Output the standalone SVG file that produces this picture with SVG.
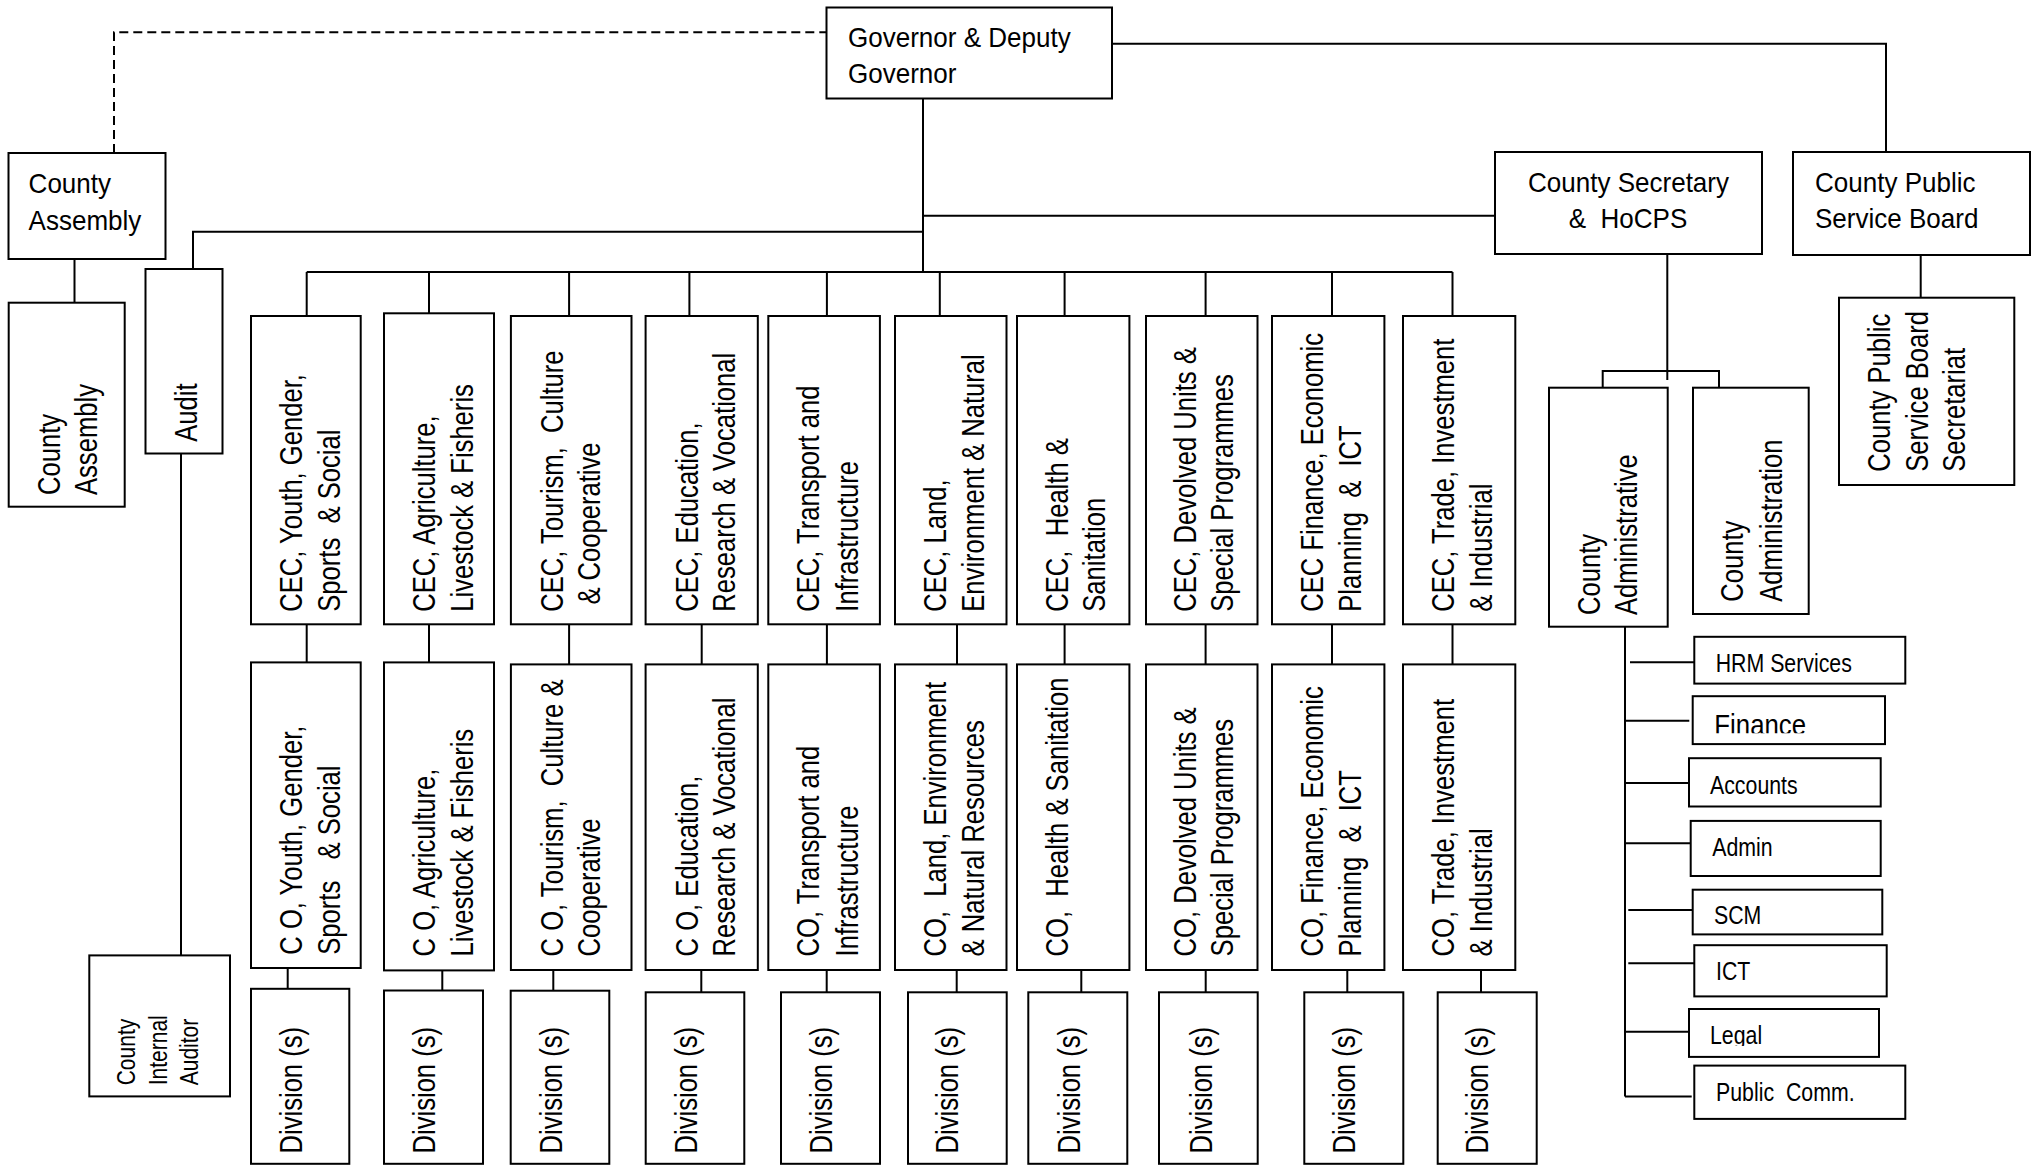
<svg xmlns="http://www.w3.org/2000/svg" width="2035" height="1165" viewBox="0 0 2035 1165">
<defs>
<style>
.b{fill:#fff;stroke:#000;stroke-width:2}
.c{fill:none;stroke:#000;stroke-width:2}
.d{fill:none;stroke:#000;stroke-width:2;stroke-dasharray:9 5}
text{font-family:"Liberation Sans",Arial,sans-serif;fill:#000;white-space:pre}
.v{font-size:32px}
.h{font-size:28px}
.l{font-size:26px}
.s{font-size:25px}
</style>
<clipPath id="clipFin"><rect x="1690" y="690" width="200" height="43.3"/></clipPath>
<clipPath id="clipLeg"><rect x="1686" y="1005" width="200" height="41"/></clipPath>
</defs>
<rect width="2035" height="1165" fill="#fff"/>

<g id="connectors">
<path class="d" d="M114,153 V32.3 H826.5"/>
<path class="c" d="M1112,43.7 H1886 V173"/>
<path class="c" d="M923,98.7 V272"/>
<path class="c" d="M923,215.7 H1495"/>
<path class="c" d="M923,231.7 H193 V269"/>
<path class="c" d="M74.5,259 V302.7"/>
<path class="c" d="M306.7,272 H1452.5"/>
<path class="c" d="M306.7,272 V316 M429,272 V313.3 M569.1,272 V316 M689.4,272 V316 M826.9,272 V316 M939.8,272 V316 M1064.6,272 V316 M1205.6,272 V316 M1332,272 V316 M1452.5,272 V316"/>
<path class="c" d="M306.7,624.3 V664 M429,624.3 V664 M569.1,624.3 V664 M701.7,624.3 V664 M826.9,624.3 V664 M957,624.3 V664 M1064.6,624.3 V664 M1205.6,624.3 V664 M1332,624.3 V664 M1452.5,624.3 V664"/>
<path class="c" d="M287.7,968 V989 M442.3,970 V990.5 M553.3,970 V990.7 M701.3,970 V992.3 M826.7,970 V992.3 M956.7,970 V992.3 M1081.3,970 V992.3 M1205.7,970 V992.3 M1347.3,970 V992.3 M1481,970 V992.3"/>
<path class="c" d="M181,453.5 V955.4"/>
<path class="c" d="M1667.3,254 V380 M1602.7,387.7 V371 H1719 V387.7"/>
<path class="c" d="M1920.7,255 V297.7"/>
<path class="c" d="M1625,626.3 V1096.6"/>
<path class="c" d="M1630,662.3 H1694.3 M1625,720.7 H1689.3 M1625,783.1 H1689 M1625,843.2 H1690.7 M1628.3,909.9 H1692.7 M1628.3,963.2 H1694.3 M1625,1031.7 H1689 M1625,1096.6 H1691.7"/>
</g>

<g id="governor">
<rect class="b" x="826.5" y="7.5" width="285.5" height="91"/>
<text class="h" transform="translate(848,46.7) scale(0.93,1)">Governor &amp; Deputy</text>
<text class="h" transform="translate(848,83.3) scale(0.93,1)">Governor</text>
</g>

<g id="county-assembly">
<rect class="b" x="8.5" y="153" width="157" height="106"/>
<text class="h" transform="translate(28.6,193.3) scale(0.93,1)">County</text>
<text class="h" transform="translate(28.6,230) scale(0.93,1)">Assembly</text>
</g>

<g id="county-assembly-2">
<rect class="b" x="8.7" y="302.7" width="116" height="204"/>
<text class="v" transform="translate(60,495) rotate(-90) scale(0.8,1)"><tspan x="0" y="0">County</tspan><tspan x="0" y="36.7">Assembly</tspan></text>
</g>

<g id="audit">
<rect class="b" x="145.5" y="269" width="77" height="184.5"/>
<text class="v" transform="translate(196.7,441.7) rotate(-90) scale(0.8,1)">Audit</text>
</g>

<g id="internal-auditor">
<rect class="b" x="89.3" y="955.4" width="140.7" height="141"/>
<text class="s" transform="translate(135,1085.3) rotate(-90) scale(0.84,1)"><tspan x="0" y="0">County</tspan><tspan x="0" y="31.7">Internal</tspan><tspan x="0" y="63.3">Auditor</tspan></text>
</g>

<g id="county-secretary">
<rect class="b" x="1495" y="152" width="267" height="102"/>
<text class="h" transform="translate(1628.5,191.7) scale(0.93,1)" text-anchor="middle">County Secretary</text>
<text class="h" transform="translate(1628,228.3) scale(0.93,1)" text-anchor="middle">&amp;  HoCPS</text>
</g>

<g id="cpsb">
<rect class="b" x="1793" y="152" width="237" height="103"/>
<text class="h" transform="translate(1815,191.7) scale(0.93,1)">County Public</text>
<text class="h" transform="translate(1815,228.3) scale(0.93,1)">Service Board</text>
</g>

<g id="cpsb-secretariat">
<rect class="b" x="1839" y="297.7" width="175.3" height="187.3"/>
<text class="v" transform="translate(1890,471.7) rotate(-90) scale(0.8,1)"><tspan x="0" y="0">County Public</tspan><tspan x="0" y="38.3">Service Board</tspan><tspan x="0" y="75">Secretariat</tspan></text>
</g>

<g id="county-administrative">
<rect class="b" x="1549" y="387.7" width="118.7" height="239"/>
<text class="v" transform="translate(1600,615) rotate(-90) scale(0.8,1)"><tspan x="0" y="0">County</tspan><tspan x="0" y="37.3">Administrative</tspan></text>
</g>

<g id="county-administration">
<rect class="b" x="1693" y="387.7" width="115.7" height="226.3"/>
<text class="v" transform="translate(1743.3,601.7) rotate(-90) scale(0.8,1)"><tspan x="0" y="0">County</tspan><tspan x="0" y="38.4">Administration</tspan></text>
</g>

<g id="cec-youth">
<rect class="b" x="251" y="316" width="109.7" height="308.3"/>
<text class="v" transform="translate(301.7,611.7) rotate(-90) scale(0.8,1)"><tspan x="0" y="0">CEC, Youth, Gender,</tspan><tspan x="0" y="38.3">Sports  &amp; Social</tspan></text>
</g>
<g id="cec-agriculture">
<rect class="b" x="384" y="313.3" width="110" height="311"/>
<text class="v" transform="translate(435,611.7) rotate(-90) scale(0.8,1)"><tspan x="0" y="0">CEC, Agriculture,</tspan><tspan x="0" y="38.3">Livestock &amp; Fisheris</tspan></text>
</g>
<g id="cec-tourism">
<rect class="b" x="510.9" y="316" width="120.6" height="308.3"/>
<text class="v" transform="translate(563.1,611.7) rotate(-90) scale(0.8,1)"><tspan x="0" y="0">CEC, Tourism,  Culture</tspan><tspan x="0" y="37"> &amp; Cooperative</tspan></text>
</g>
<g id="cec-education">
<rect class="b" x="645.6" y="316" width="112.2" height="308.3"/>
<text class="v" transform="translate(698.2,611.7) rotate(-90) scale(0.8,1)"><tspan x="0" y="0">CEC, Education,</tspan><tspan x="0" y="36.8">Research &amp; Vocational</tspan></text>
</g>
<g id="cec-transport">
<rect class="b" x="768.3" y="316" width="111.6" height="308.3"/>
<text class="v" transform="translate(819.2,611.7) rotate(-90) scale(0.8,1)"><tspan x="0" y="0">CEC, Transport and</tspan><tspan x="0" y="38.6">Infrastructure</tspan></text>
</g>
<g id="cec-land">
<rect class="b" x="895" y="316" width="111.5" height="308.3"/>
<text class="v" transform="translate(945.5,611.7) rotate(-90) scale(0.8,1)"><tspan x="0" y="0">CEC, Land,</tspan><tspan x="0" y="38.5">Environment &amp; Natural</tspan></text>
</g>
<g id="cec-health">
<rect class="b" x="1017" y="316" width="112.4" height="308.3"/>
<text class="v" transform="translate(1068,611.7) rotate(-90) scale(0.8,1)"><tspan x="0" y="0">CEC,  Health &amp;</tspan><tspan x="0" y="37">Sanitation</tspan></text>
</g>
<g id="cec-devolved">
<rect class="b" x="1146" y="316" width="111.5" height="308.3"/>
<text class="v" transform="translate(1196,611.7) rotate(-90) scale(0.8,1)"><tspan x="0" y="0">CEC, Devolved Units &amp;</tspan><tspan x="0" y="37">Special Programmes</tspan></text>
</g>
<g id="cec-finance">
<rect class="b" x="1272" y="316" width="112.4" height="308.3"/>
<text class="v" transform="translate(1323.4,611.7) rotate(-90) scale(0.8,1)"><tspan x="0" y="0">CEC Finance, Economic</tspan><tspan x="0" y="37.6">Planning  &amp;  ICT</tspan></text>
</g>
<g id="cec-trade">
<rect class="b" x="1403" y="316" width="112.3" height="308.3"/>
<text class="v" transform="translate(1454,611.7) rotate(-90) scale(0.8,1)"><tspan x="0" y="0">CEC, Trade, Investment</tspan><tspan x="0" y="38.5">&amp; Industrial</tspan></text>
</g>

<g id="co-youth">
<rect class="b" x="251" y="662.4" width="109.7" height="305.6"/>
<text class="v" transform="translate(301.7,954.7) rotate(-90) scale(0.8,1)"><tspan x="0" y="0">C O, Youth, Gender,</tspan><tspan x="0" y="38.3">Sports   &amp; Social</tspan></text>
</g>
<g id="co-agriculture">
<rect class="b" x="384" y="662.4" width="110" height="308"/>
<text class="v" transform="translate(435,956.4) rotate(-90) scale(0.8,1)"><tspan x="0" y="0">C O, Agriculture,</tspan><tspan x="0" y="38.3">Livestock &amp; Fisheris</tspan></text>
</g>
<g id="co-tourism">
<rect class="b" x="510.9" y="664.4" width="120.6" height="305.6"/>
<text class="v" transform="translate(563.1,956.4) rotate(-90) scale(0.8,1)"><tspan x="0" y="0">C O, Tourism,  Culture &amp;</tspan><tspan x="0" y="37">Cooperative</tspan></text>
</g>
<g id="co-education">
<rect class="b" x="645.6" y="664.4" width="112.2" height="305.6"/>
<text class="v" transform="translate(698.2,956.4) rotate(-90) scale(0.8,1)"><tspan x="0" y="0">C O, Education,</tspan><tspan x="0" y="36.8">Research &amp; Vocational</tspan></text>
</g>
<g id="co-transport">
<rect class="b" x="768.3" y="664.4" width="111.6" height="305.6"/>
<text class="v" transform="translate(819.2,956.4) rotate(-90) scale(0.8,1)"><tspan x="0" y="0">CO, Transport and</tspan><tspan x="0" y="38.6">Infrastructure</tspan></text>
</g>
<g id="co-land">
<rect class="b" x="895" y="664.4" width="111.5" height="305.6"/>
<text class="v" transform="translate(945.5,956.4) rotate(-90) scale(0.8,1)"><tspan x="0" y="0">CO,  Land, Environment</tspan><tspan x="0" y="38.5">&amp; Natural Resources</tspan></text>
</g>
<g id="co-health">
<rect class="b" x="1017" y="664.4" width="112.4" height="305.6"/>
<text class="v" transform="translate(1068,956.4) rotate(-90) scale(0.8,1)">CO,  Health &amp; Sanitation</text>
</g>
<g id="co-devolved">
<rect class="b" x="1146" y="664.4" width="111.5" height="305.6"/>
<text class="v" transform="translate(1196,956.4) rotate(-90) scale(0.8,1)"><tspan x="0" y="0">CO, Devolved Units &amp;</tspan><tspan x="0" y="37.3">Special Programmes</tspan></text>
</g>
<g id="co-finance">
<rect class="b" x="1272" y="664.4" width="112.4" height="305.6"/>
<text class="v" transform="translate(1323.4,956.4) rotate(-90) scale(0.8,1)"><tspan x="0" y="0">CO, Finance, Economic</tspan><tspan x="0" y="37.6">Planning  &amp;  ICT</tspan></text>
</g>
<g id="co-trade">
<rect class="b" x="1403" y="664.4" width="112.3" height="305.6"/>
<text class="v" transform="translate(1454,956.4) rotate(-90) scale(0.8,1)"><tspan x="0" y="0">CO, Trade, Investment</tspan><tspan x="0" y="38.5">&amp; Industrial</tspan></text>
</g>

<g id="div-1"><rect class="b" x="251" y="988.8" width="98.3" height="175"/><text class="v" transform="translate(301.7,1153.5) rotate(-90) scale(0.8,1)">Division (s)</text></g>
<g id="div-2"><rect class="b" x="384" y="990.5" width="99" height="173.3"/><text class="v" transform="translate(435,1153.5) rotate(-90) scale(0.8,1)">Division (s)</text></g>
<g id="div-3"><rect class="b" x="510.7" y="990.7" width="98.6" height="173.1"/><text class="v" transform="translate(561.7,1153.5) rotate(-90) scale(0.8,1)">Division (s)</text></g>
<g id="div-4"><rect class="b" x="645.7" y="992.3" width="98.6" height="171.5"/><text class="v" transform="translate(696.7,1153.5) rotate(-90) scale(0.8,1)">Division (s)</text></g>
<g id="div-5"><rect class="b" x="781" y="992.3" width="99" height="171.5"/><text class="v" transform="translate(831.7,1153.5) rotate(-90) scale(0.8,1)">Division (s)</text></g>
<g id="div-6"><rect class="b" x="908" y="992.3" width="98.7" height="171.5"/><text class="v" transform="translate(958.3,1153.5) rotate(-90) scale(0.8,1)">Division (s)</text></g>
<g id="div-7"><rect class="b" x="1028.3" y="992.3" width="99" height="171.5"/><text class="v" transform="translate(1080,1153.5) rotate(-90) scale(0.8,1)">Division (s)</text></g>
<g id="div-8"><rect class="b" x="1159" y="992.3" width="98.7" height="171.5"/><text class="v" transform="translate(1211.7,1153.5) rotate(-90) scale(0.8,1)">Division (s)</text></g>
<g id="div-9"><rect class="b" x="1304.3" y="992.3" width="99" height="171.5"/><text class="v" transform="translate(1355,1153.5) rotate(-90) scale(0.8,1)">Division (s)</text></g>
<g id="div-10"><rect class="b" x="1437.7" y="992.3" width="99" height="171.5"/><text class="v" transform="translate(1488.3,1153.5) rotate(-90) scale(0.8,1)">Division (s)</text></g>

<g id="hrm"><rect class="b" x="1694.3" y="636.8" width="211" height="46.8"/><text class="l" transform="translate(1715.7,672) scale(0.82,1)">HRM Services</text></g>
<g id="finance"><rect class="b" x="1692.7" y="696.2" width="192.3" height="47.9"/><g clip-path="url(#clipFin)"><text transform="translate(1714.3,735) scale(0.86,1)" style="font-size:30px">Finance</text></g></g>
<g id="accounts"><rect class="b" x="1689" y="758.2" width="191.7" height="48.3"/><text class="l" transform="translate(1710,793.9) scale(0.82,1)">Accounts</text></g>
<g id="admin"><rect class="b" x="1690.7" y="820.9" width="190" height="55.1"/><text class="l" transform="translate(1712.3,855.9) scale(0.82,1)">Admin</text></g>
<g id="scm"><rect class="b" x="1692.7" y="889.7" width="189.6" height="44.7"/><text class="l" transform="translate(1714,924.3) scale(0.82,1)">SCM</text></g>
<g id="ict"><rect class="b" x="1694.3" y="945.2" width="192.4" height="51.2"/><text class="l" transform="translate(1716,980.2) scale(0.82,1)">ICT</text></g>
<g id="legal"><rect class="b" x="1689" y="1009" width="190" height="47.9"/><g clip-path="url(#clipLeg)"><text class="l" transform="translate(1710,1044) scale(0.82,1)">Legal</text></g></g>
<g id="public-comm"><rect class="b" x="1694.3" y="1065.6" width="211" height="53.3"/><text class="l" transform="translate(1716,1100.9) scale(0.82,1)">Public  Comm.</text></g>
</svg>
